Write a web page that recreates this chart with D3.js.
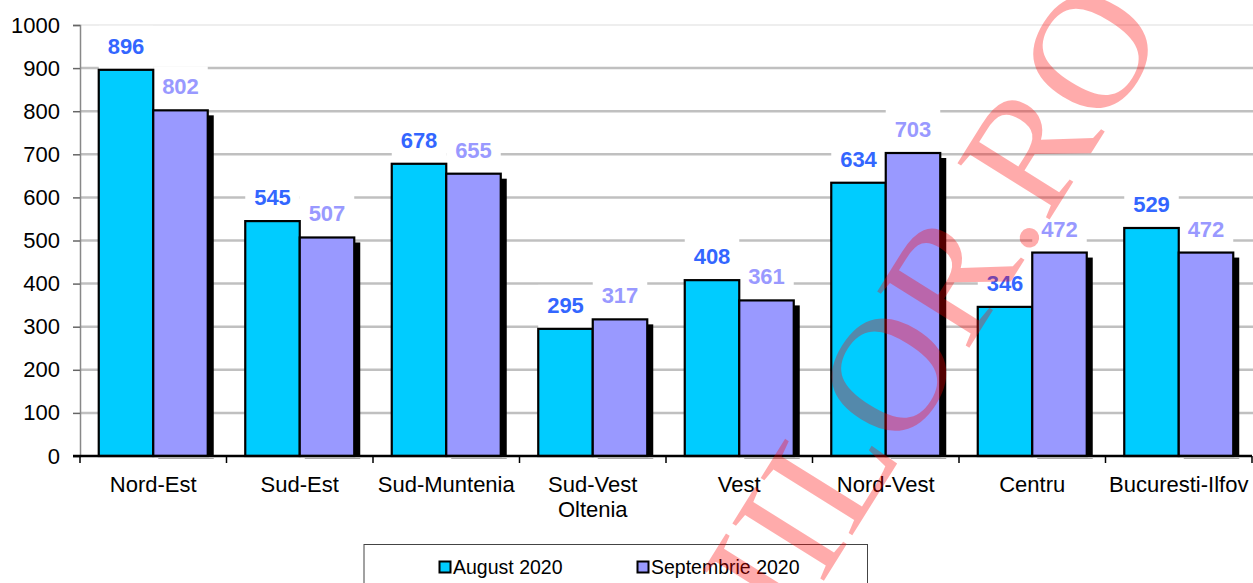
<!DOCTYPE html>
<html>
<head>
<meta charset="utf-8">
<script src="https://cdn.jsdelivr.net/npm/d3@7"></script>
<style>
  html, body { margin: 0; padding: 0; background: #fff; overflow: hidden; }
  text { font-family: Arial, "Liberation Sans", sans-serif; }
</style>
</head>
<body>
<div id="chart"></div>
<script>
// data
var regions = ["Nord-Est", "Sud-Est", "Sud-Muntenia", "Sud-Vest\nOltenia", "Vest", "Nord-Vest", "Centru", "Bucuresti-Ilfov"];
var august = [896, 545, 678, 295, 408, 634, 346, 529];
var septembrie = [802, 507, 655, 317, 361, 703, 472, 472];
var seriesNames = ["August 2020", "Septembrie 2020"];
var yTicks = [0, 100, 200, 300, 400, 500, 600, 700, 800, 900, 1000];

var width = 1253, height = 583;
var plotLeft = 80, plotRight = 1252, plotTop = 25, plotBottom = 456;

var fills = ["#00ccff", "#9999ff"];
var labelColors = ["#3366ff", "#9999ff"];

var data = regions.map(function(r, i) {
  return { region: r, values: [august[i], septembrie[i]] };
});

var svg = d3.select("#chart").append("svg")
    .attr("width", width)
    .attr("height", height);

var x0 = d3.scaleBand()
    .domain(regions)
    .range([plotLeft, plotRight])
    .paddingInner(0)
    .paddingOuter(0);

var x1 = d3.scaleBand()
    .domain([0, 1])
    .range([x0.bandwidth() * 0.128, x0.bandwidth() * 0.872])
    .padding(0);

var y = d3.scaleLinear()
    .domain([0, 1000])
    .range([plotBottom, plotTop]);

// gridlines
svg.selectAll(".grid")
    .data(yTicks.filter(function(d) { return d > 0; }))
   .enter()
    .append("line")
    .attr("class", "grid")
    .attr("x1", plotLeft)
    .attr("x2", width)
    .attr("y1", function(d) { return y(d); })
    .attr("y2", function(d) { return y(d); })
    .style("stroke", function(d) { return d == 1000 ? "#e8e8e8" : "#c0c0c0"; })
    .style("stroke-width", function(d) { return d == 1000 ? 1.5 : 2.5; });

// y axis
var yAxis = d3.axisLeft(y)
    .tickValues(yTicks)
    .tickSize(7)
    .tickPadding(13)
    .tickFormat(d3.format("d"));

var gy = svg.append("g")
    .attr("transform", "translate(" + plotLeft + ",0)")
    .call(yAxis);
gy.select(".domain").style("stroke", "#888").style("stroke-width", 1.5);
gy.selectAll(".tick line").style("stroke", "#666").style("stroke-width", 1.5);
gy.selectAll("text")
    .style("font-size", "22px")
    .style("fill", "#000");

var groups = svg.selectAll(".group")
    .data(data)
   .enter()
    .append("g")
    .attr("class", "group")
    .attr("transform", function(d) { return "translate(" + x0(d.region) + ",0)"; });

// shadow behind second series
groups.append("rect")
    .attr("x", x1(1) + 6)
    .attr("y", function(d) { return y(d.values[1]) + 5; })
    .attr("width", x1.bandwidth())
    .attr("height", function(d) { return plotBottom - y(d.values[1]) - 5; })
    .style("fill", "#000");

groups.append("line")
    .attr("x1", x1(1) + 5)
    .attr("x2", x1(1) + x1.bandwidth() + 6)
    .attr("y1", plotBottom + 2.5)
    .attr("y2", plotBottom + 2.5)
    .style("stroke", "#aaa")
    .style("stroke-width", 1.2);

// label backgrounds
groups.selectAll(".lblbg")
    .data(function(d) { return d.values; })
   .enter()
    .append("rect")
    .attr("x", function(d, i) { return x1(i); })
    .attr("y", function(d) { return y(d) - 44; })
    .attr("width", x1.bandwidth())
    .attr("height", 43)
    .style("fill", "#fff");

// bars
groups.selectAll(".bar")
    .data(function(d) { return d.values; })
   .enter()
    .append("rect")
    .attr("class", "bar")
    .attr("x", function(d, i) { return x1(i); })
    .attr("y", function(d) { return y(d); })
    .attr("width", x1.bandwidth())
    .attr("height", function(d) { return plotBottom - y(d); })
    .style("fill", function(d, i) { return fills[i]; })
    .style("stroke", "#000")
    .style("stroke-width", 2.2);

// value labels
groups.selectAll(".lbl")
    .data(function(d) { return d.values; })
   .enter()
    .append("text")
    .attr("text-anchor", "middle")
    .attr("x", function(d, i) { return x1(i) + x1.bandwidth() / 2; })
    .attr("y", function(d) { return y(d) - 16; })
    .text(function(d) { return d; })
    .style("fill", function(d, i) { return labelColors[i]; })
    .style("font-size", "22px")
    .style("font-weight", "bold");

// x axis
svg.append("line")
    .attr("x1", plotLeft - 7)
    .attr("x2", plotRight)
    .attr("y1", plotBottom)
    .attr("y2", plotBottom)
    .style("stroke", "#000")
    .style("stroke-width", 2.5);

svg.selectAll(".xtick")
    .data(regions.concat(["end"]))
   .enter()
    .append("line")
    .attr("x1", function(d, i) { return plotLeft + i * x0.bandwidth(); })
    .attr("x2", function(d, i) { return plotLeft + i * x0.bandwidth(); })
    .attr("y1", plotBottom)
    .attr("y2", plotBottom + 7)
    .style("stroke", "#000")
    .style("stroke-width", 1.5);

var xl = svg.selectAll(".xlabel")
    .data(regions)
   .enter()
    .append("text")
    .attr("text-anchor", "middle")
    .attr("x", function(d) { return x0(d) + x0.bandwidth() / 2; })
    .attr("y", 492)
    .style("font-size", "22px")
    .style("fill", "#000");

xl.selectAll("tspan")
    .data(function(d) { return d.split("\n"); })
   .enter()
    .append("tspan")
    .attr("x", function() { return d3.select(this.parentNode).attr("x"); })
    .attr("dy", function(d, i) { return i == 0 ? 0 : 25; })
    .text(function(d) { return d; });

// legend
var legend = svg.append("g");
legend.append("rect")
    .attr("x", 364)
    .attr("y", 544.5)
    .attr("width", 503.5)
    .attr("height", 60)
    .style("fill", "#fff")
    .style("stroke", "#444")
    .style("stroke-width", 1);

var legendX = [439, 637];
var items = legend.selectAll(".item")
    .data(seriesNames)
   .enter()
    .append("g")
    .attr("transform", function(d, i) { return "translate(" + legendX[i] + ",0)"; });

items.append("rect")
    .attr("x", 0.5)
    .attr("y", 561.5)
    .attr("width", 11)
    .attr("height", 11)
    .style("fill", function(d, i) { return fills[i]; })
    .style("stroke", "#000")
    .style("stroke-width", 2);

items.append("text")
    .attr("x", 14)
    .attr("y", 574)
    .text(function(d) { return d; })
    .style("font-size", "19.5px")
    .style("fill", "#000");

// watermark
svg.append("text")
    .attr("transform", "translate(1168,30) rotate(-58)")
    .attr("text-anchor", "end")
    .text("IILOR.RO")
    .style("font-family", "'Liberation Serif', 'Times New Roman', serif")
    .style("font-size", "165px")
    .style("fill", "#ff0000")
    .style("fill-opacity", 0.33);
</script>
</body>
</html>
